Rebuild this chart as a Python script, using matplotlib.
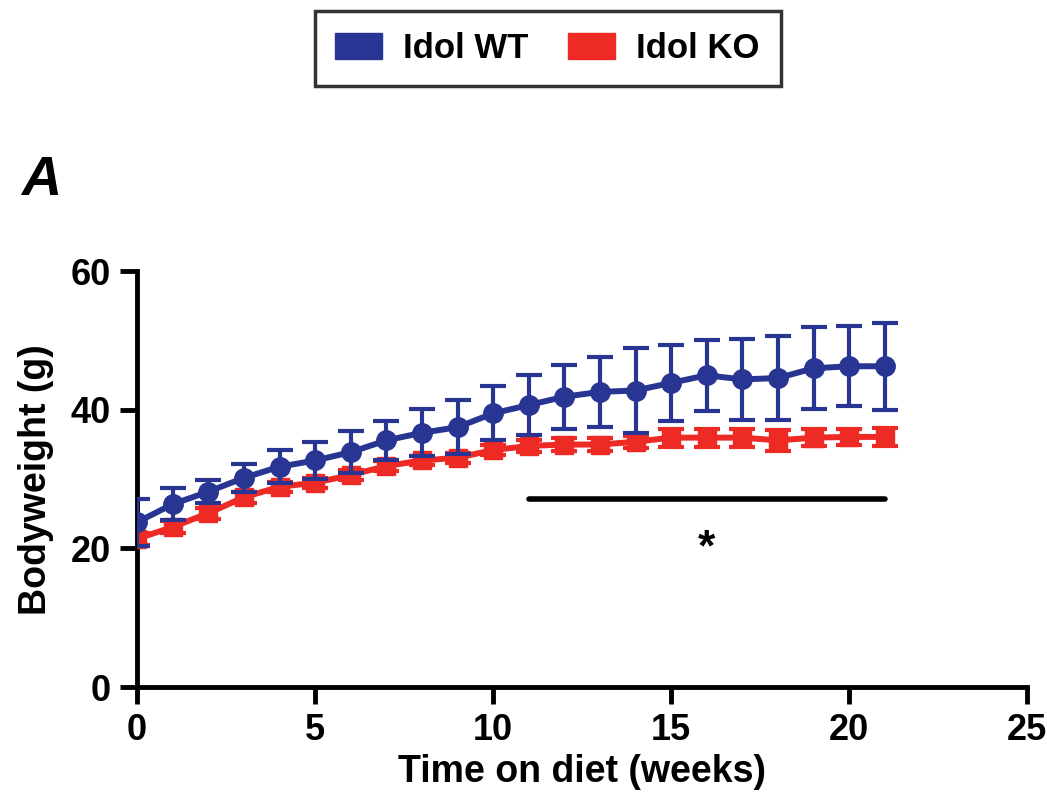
import matplotlib
matplotlib.use('Agg')
import matplotlib.pyplot as plt
from matplotlib.patches import Patch

plt.rcParams['font.family'] = ['Liberation Sans', 'DejaVu Sans']

# Data
weeks = list(range(22))
wt_mean = [23.8, 26.4, 28.2, 30.2, 31.8, 32.7, 33.9, 35.6, 36.7, 37.5, 39.5,
           40.7, 41.9, 42.6, 42.8, 43.9, 45.0, 44.4, 44.6, 46.0, 46.3, 46.3]
wt_err = [3.4, 2.3, 1.7, 2.0, 2.4, 2.7, 3.0, 2.8, 3.4, 3.9, 3.9,
          4.3, 4.6, 5.0, 6.2, 5.5, 5.1, 5.8, 6.1, 5.9, 5.8, 6.3]
ko_mean = [21.4, 23.1, 25.1, 27.4, 28.9, 29.5, 30.6, 31.9, 32.7, 33.1, 34.2,
           34.8, 35.0, 35.0, 35.4, 36.0, 36.0, 36.0, 35.6, 36.0, 36.1, 36.1]
ko_err = [0.9, 0.8, 0.8, 0.8, 0.7, 0.7, 0.7, 0.7, 0.7, 0.7, 0.7,
          0.9, 0.9, 0.9, 0.9, 1.3, 1.3, 1.3, 1.5, 1.2, 1.2, 1.3]
sig_start, sig_end, sig_y = 11, 21, 27.1
star_x, star_y = 16, 20.0

blue = '#283593'
red = '#ee2a24'

fig = plt.figure(figsize=(10.47, 7.98), dpi=100)
ax = fig.add_axes([0.131, 0.139, 0.850, 0.521])

ax.errorbar(weeks, ko_mean, yerr=ko_err, color=red, marker='s', markersize=13,
            linewidth=4.3, elinewidth=3, capsize=9.5, capthick=3, zorder=3)
ax.errorbar(weeks, wt_mean, yerr=wt_err, color=blue, marker='o', markersize=14,
            linewidth=4.3, elinewidth=3, capsize=9.5, capthick=3, zorder=4)

# significance bar
ax.plot([sig_start, sig_end], [sig_y, sig_y], color='black', linewidth=4,
        solid_capstyle='round')
ax.text(star_x, star_y, '*', ha='center', va='center', fontsize=32, fontweight='bold')

ax.set_xlim(0, 25)
ax.set_ylim(0, 60)
ax.set_xticks([0, 5, 10, 15, 20, 25])
ax.set_yticks([0, 20, 40, 60])
for s in ['top', 'right']:
    ax.spines[s].set_visible(False)
for s in ['left', 'bottom']:
    ax.spines[s].set_linewidth(3.5)
ax.tick_params(width=3.5, length=12, pad=7, labelsize=26)
for lab in ax.get_xticklabels() + ax.get_yticklabels():
    lab.set_fontweight('bold')
ax.set_xlabel('Time on diet (weeks)', fontsize=27, fontweight='bold', labelpad=4)
ax.set_ylabel('Bodyweight (g)', fontsize=27, fontweight='bold', labelpad=12)

fig.text(0.02, 0.756, 'A', fontsize=40, fontweight='bold', fontstyle='italic',
         va='baseline')

handles = [Patch(facecolor=blue, edgecolor=blue), Patch(facecolor=red, edgecolor=red)]
leg = fig.legend(handles, ['Idol WT', 'Idol KO'], loc='upper center',
                 bbox_to_anchor=(0.523, 0.986), borderaxespad=0, ncol=2,
                 frameon=True, fancybox=False,
                 prop={'size': 25, 'weight': 'bold'}, handlelength=1.35,
                 handleheight=0.8, handletextpad=0.6, columnspacing=1.15,
                 borderpad=0.6, edgecolor='black')
leg.get_frame().set_linewidth(2.5)

plt.savefig('out.png', dpi=100)
